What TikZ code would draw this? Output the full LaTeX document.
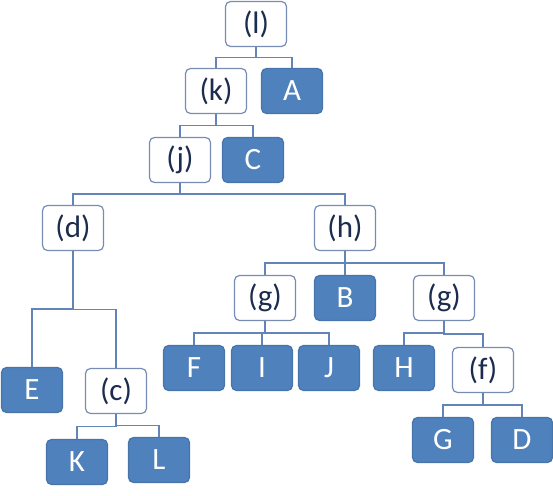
\documentclass[tikz,border=0pt]{standalone}
\usepackage{fontspec}
\setmainfont{Carlito}
\usepackage{tikz}
\usetikzlibrary{calc}
\definecolor{leafblue}{RGB}{79,129,189}
\definecolor{edgeblue}{RGB}{98,132,184}
\definecolor{boxline}{RGB}{118,140,178}
\definecolor{labelnavy}{RGB}{28,44,78}
\tikzstyle{inner} = [draw=boxline, line width=1.2pt, fill=white, rounded corners=5pt,
  minimum width=61pt, minimum height=45pt, inner sep=0pt, text=labelnavy,
  font={\fontsize{31}{33}\selectfont}]
\tikzstyle{leaf} = [inner, draw=leafblue!90!black, fill=leafblue, text=white]
\tikzstyle{link} = [draw=edgeblue, line width=1.1pt]
\newcommand{\elbow}[2]{%
  \coordinate (#1#2mid) at ($(#1.south)!.5!(#2.north)$);
  \draw[link] (#1.south) |- (#1#2mid) -| (#2.north);}

\begin{document}
\begin{tikzpicture}[x=1pt, y=-1pt]
  \useasboundingbox (0,0) rectangle (553,495);

  % top chain
  \node[inner] (l) at (256,24) {(l)};
  \node[inner] (k) at (216,91) {(k)};
  \node[leaf]  (A) at (292,91) {A};
  \node[inner] (j) at (180,160) {(j)};
  \node[leaf]  (C) at (253,160) {C};

  % left branch
  \node[inner] (d) at (73,228) {(d)};
  \node[leaf]  (E) at (32,390) {E};
  \node[inner] (c) at (116,391) {(c)};
  \node[leaf]  (K) at (77,462) {K};
  \node[leaf]  (L) at (159,460) {L};

  % right branch
  \node[inner] (h) at (345,228) {(h)};
  \node[inner] (g1) at (265,298) {(g)};
  \node[leaf]  (B) at (345,298) {B};
  \node[inner] (g2) at (444,298) {(g)};
  \node[leaf]  (F) at (194,368) {F};
  \node[leaf]  (I) at (262,368) {I};
  \node[leaf]  (J) at (329,368) {J};
  \node[leaf]  (H) at (404,368) {H};
  \node[inner] (f) at (483,370) {(f)};
  \node[leaf]  (G) at (443,440) {G};
  \node[leaf]  (D) at (522,440) {D};

  \elbow{l}{k} \elbow{l}{A}
  \elbow{k}{j} \elbow{k}{C}
  \elbow{j}{d} \elbow{j}{h}
  \elbow{d}{E} \elbow{d}{c}
  \elbow{c}{K} \elbow{c}{L}
  \elbow{h}{g1} \elbow{h}{B} \elbow{h}{g2}
  \elbow{g1}{F} \elbow{g1}{I} \elbow{g1}{J}
  \elbow{g2}{H} \elbow{g2}{f}
  \elbow{f}{G} \elbow{f}{D}
\end{tikzpicture}
\end{document}
